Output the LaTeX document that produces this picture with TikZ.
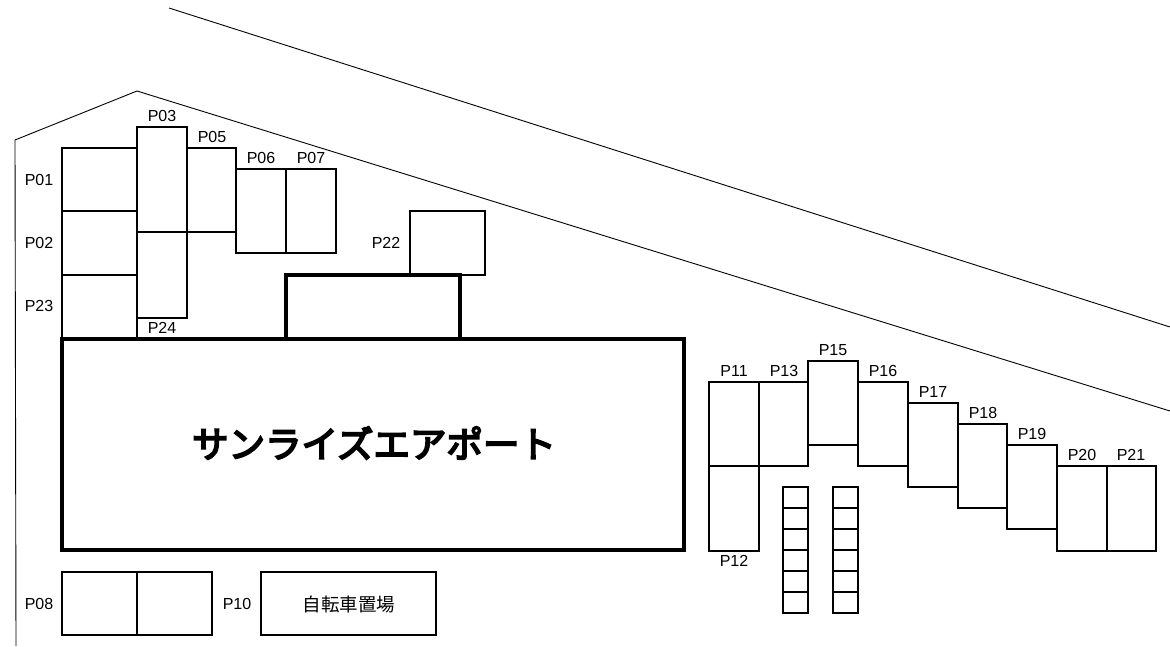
\documentclass[tikz,border=0pt]{standalone}
\usepackage{fontspec}
\setmainfont{Liberation Sans}
\newfontfamily\cjk{Noto Sans CJK JP}
\newfontfamily\cjkheavy[FakeBold=5]{Noto Sans CJK JP}
\tikzset{
  bay/.style={line width=1.4pt},
  outline/.style={line width=0.9pt},
  building/.style={line width=3.6pt},
  plabel/.style={font=\fontsize{16}{18}\selectfont,inner sep=0pt},
}
\begin{document}
\begin{tikzpicture}[x=1pt,y=-1pt]
    \useasboundingbox (0,0) rectangle (1170,646);
    % site outline
    \draw [outline](169,8) -- (1170,327);
    \draw [outline](16,646) -- (15,140) -- (137,91) -- (1170,411);
    % parking bays, left
    \foreach \xa/\ya/\xb/\yb in {62/148/137/211,62/211/137/275,137/127/187/232,137/232/187/318,
      187/148/236/232,236/169/286/253,286/169/336/253,410/211/485/275,
      62/572/137/635,137/572/212/635,261/572/436/635}
      \draw [bay](\xa,\ya) rectangle (\xb,\yb);
    \draw [bay](62,339) -- (62,275) -- (137,275) -- (137,339);
    % parking bays, right
    \foreach \xa/\ya/\xb/\yb in {709/382/759/466,709/466/759/551,759/382/808/466,808/361/858/445,
      858/382/908/466,908/403/958/487,958/424/1007/508,1007/445/1057/529,
      1057/466/1107/551,1107/466/1156/551}
      \draw [bay](\xa,\ya) rectangle (\xb,\yb);
    % bicycle racks
    \foreach \x in {783,833}
      \foreach \y in {487,508,529,550,571,592}
        \draw [bay](\x,\y) rectangle ++(25,21);
    % buildings
    \draw [building](286,339) -- (286,275) -- (460,275) -- (460,339);
    \draw [building](62,339) rectangle (684,550);
    \node [font=\cjkheavy\fontsize{36.5}{40}\selectfont,inner sep=0pt] (airport) at (374,443) {サンライズエアポート};
    \node [font=\cjk\fontsize{18.5}{20}\selectfont,inner sep=0pt] (bicycle) at (349,604) {自転車置場};
    % labels
    \foreach \x/\y/\t in {39/180/P01,39/243/P02,162/116/P03,212/137/P05,261/158/P06,311/158/P07,
      39/604/P08,237/604/P10,734/371/P11,734/561/P12,784/371/P13,833/350/P15,883/371/P16,
      933/392/P17,983/413/P18,1032/434/P19,1082/455/P20,1131/455/P21,386/243/P22,39/306/P23,162/328/P24}
      \node [plabel] (\t) at (\x,\y) {\t};
\end{tikzpicture}
\end{document}
